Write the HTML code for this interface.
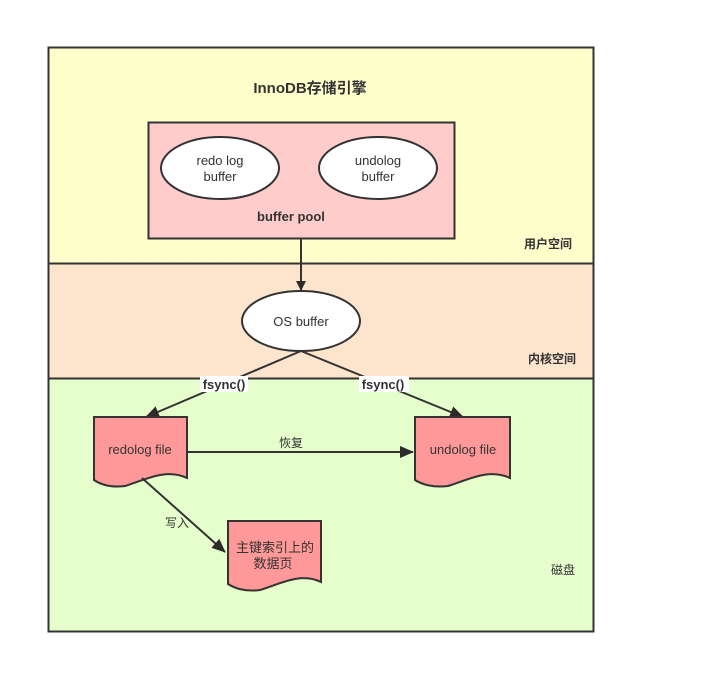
<!DOCTYPE html>
<html><head><meta charset="utf-8"><style>
html,body{margin:0;padding:0;background:#fff;}
svg text{font-family:"Liberation Sans","Noto Sans CJK SC",sans-serif;fill:#333;}
</style></head><body>
<svg width="705" height="694" viewBox="0 0 705 694" xmlns="http://www.w3.org/2000/svg">
<defs>
<marker id="a" markerWidth="10" markerHeight="10" refX="9" refY="5" orient="auto" markerUnits="userSpaceOnUse">
<path d="M0,0 L10,5 L0,10 Z" fill="#2b2b2b"/></marker>
<marker id="b" markerWidth="14" markerHeight="12" refX="13" refY="6" orient="auto" markerUnits="userSpaceOnUse">
<path d="M0,0 L14,6 L0,12 Z" fill="#2b2b2b"/></marker>
</defs>
<rect x="48.5" y="47.5" width="545" height="216" fill="#ffffcc" stroke="#333" stroke-width="2"/>
<rect x="48.5" y="263.5" width="545" height="115" fill="#fde5cd" stroke="#333" stroke-width="2"/>
<rect x="48.5" y="378.5" width="545" height="253" fill="#e6fecc" stroke="#333" stroke-width="2"/>
<text x="310" y="93" text-anchor="middle" font-size="15" font-weight="bold">InnoDB存储引擎</text>
<rect x="148.5" y="122.5" width="306" height="116" fill="#ffcccc" stroke="#333" stroke-width="2"/>
<ellipse cx="378" cy="168" rx="59" ry="31" fill="#fff" stroke="#333" stroke-width="2"/>
<ellipse cx="220" cy="168" rx="59" ry="31" fill="#fff" stroke="#333" stroke-width="2"/>
<text x="220" y="165" text-anchor="middle" font-size="13">redo log</text>
<text x="220" y="181" text-anchor="middle" font-size="13">buffer</text>
<text x="378" y="165" text-anchor="middle" font-size="13">undolog</text>
<text x="378" y="181" text-anchor="middle" font-size="13">buffer</text>
<text x="291" y="221" text-anchor="middle" font-size="13" font-weight="bold">buffer pool</text>
<text x="548" y="248" text-anchor="middle" font-size="12" font-weight="bold">用户空间</text>
<line x1="301" y1="238" x2="301" y2="290" stroke="#333" stroke-width="2" marker-end="url(#a)"/>
<ellipse cx="301" cy="321" rx="59" ry="30" fill="#fff" stroke="#333" stroke-width="2"/>
<text x="301" y="326" text-anchor="middle" font-size="13">OS buffer</text>
<text x="552" y="363" text-anchor="middle" font-size="12" font-weight="bold">内核空间</text>
<line x1="301" y1="351" x2="146" y2="417" stroke="#333" stroke-width="2" marker-end="url(#b)"/>
<line x1="301" y1="351" x2="463" y2="417" stroke="#333" stroke-width="2" marker-end="url(#b)"/>
<rect x="200" y="376" width="48" height="16" fill="#fff"/>
<rect x="359" y="376" width="50" height="16" fill="#fff"/>
<text x="224" y="389" text-anchor="middle" font-size="13" font-weight="bold">fsync()</text>
<text x="383" y="389" text-anchor="middle" font-size="13" font-weight="bold">fsync()</text>
<path d="M94,417 H187 V478 C165,468 145,480 125,486 C110,488 100,484 94,480 Z" fill="#ff9999" stroke="#333" stroke-width="2"/>
<path d="M415,417 H510 V478 C488,468 468,480 448,486 C433,488 421,484 415,480 Z" fill="#ff9999" stroke="#333" stroke-width="2"/>
<path d="M228,521 H321 V582 C300,572 280,584 260,590 C245,592 234,588 228,584 Z" fill="#ff9999" stroke="#333" stroke-width="2"/>
<text x="140" y="454" text-anchor="middle" font-size="13">redolog file</text>
<text x="463" y="454" text-anchor="middle" font-size="13">undolog file</text>
<text x="275" y="552" text-anchor="middle" font-size="13">主键索引上的</text>
<text x="273" y="568" text-anchor="middle" font-size="13">数据页</text>
<line x1="188" y1="452" x2="413" y2="452" stroke="#333" stroke-width="2" marker-end="url(#b)"/>
<text x="291" y="447" text-anchor="middle" font-size="12">恢复</text>
<line x1="142" y1="478" x2="225" y2="552" stroke="#333" stroke-width="2" marker-end="url(#b)"/>
<text x="177" y="527" text-anchor="middle" font-size="12">写入</text>
<text x="563" y="574" text-anchor="middle" font-size="12">磁盘</text>
</svg>
</body></html>
